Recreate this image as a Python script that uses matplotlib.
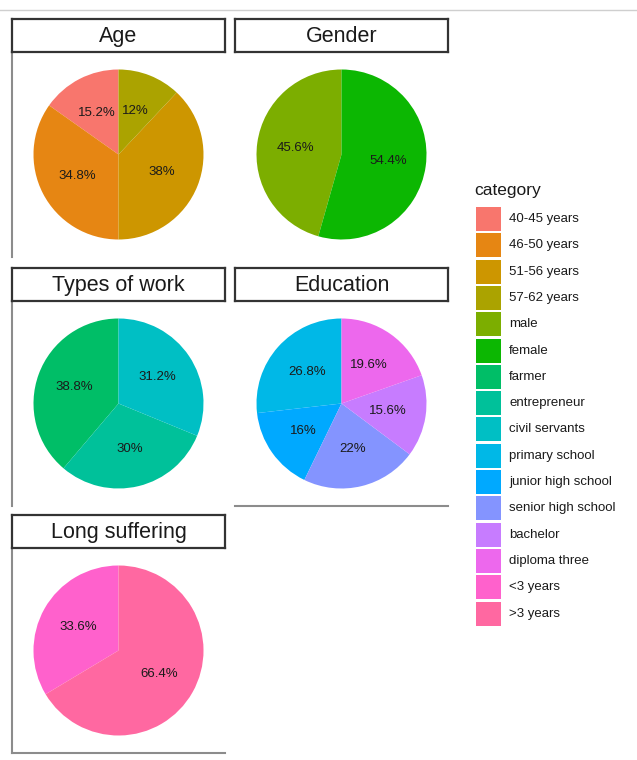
import matplotlib
matplotlib.use('Agg')
import matplotlib.pyplot as plt
from matplotlib.patches import Rectangle
import numpy as np

plt.rcParams['font.family'] = ['Liberation Sans', 'DejaVu Sans']

# data
panels = ['Age', 'Gender', 'Types of work', 'Education', 'Long suffering']
age_cats = ['40-45 years', '46-50 years', '51-56 years', '57-62 years']
age_vals = [15.2, 34.8, 38, 12]
gender_cats = ['male', 'female']
gender_vals = [45.6, 54.4]
work_cats = ['farmer', 'entrepreneur', 'civil servants']
work_vals = [38.8, 30, 31.2]
edu_cats = ['primary school', 'junior high school', 'senior high school',
            'bachelor', 'diploma three']
edu_vals = [26.8, 16, 22, 15.6, 19.6]
suff_cats = ['<3 years', '>3 years']
suff_vals = [33.6, 66.4]

groups = [(age_cats, age_vals), (gender_cats, gender_vals), (work_cats, work_vals),
          (edu_cats, edu_vals), (suff_cats, suff_vals)]
all_cats = [c for cats, _ in groups for c in cats]

W, H = 637, 760


def hue_pal(n, l=65, c=100):
    # ggplot2 default discrete palette (HCL -> sRGB)
    hues = np.linspace(15, 375, n + 1)[:-1]
    Xn, Yn, Zn = 95.047, 100.0, 108.883
    un = 4 * Xn / (Xn + 15 * Yn + 3 * Zn)
    vn = 9 * Yn / (Xn + 15 * Yn + 3 * Zn)
    out = []
    for h in hues:
        u = c * np.cos(np.radians(h))
        v = c * np.sin(np.radians(h))
        Y = Yn * ((l + 16) / 116) ** 3
        up = u / (13 * l) + un
        vp = v / (13 * l) + vn
        X = Y * 9 * up / (4 * vp)
        Z = Y * (12 - 3 * up - 20 * vp) / (4 * vp)
        xyz = np.array([X, Y, Z]) / 100
        m = np.array([[3.2404542, -1.5371385, -0.4985314],
                      [-0.9692660, 1.8760108, 0.0415560],
                      [0.0556434, -0.2040259, 1.0572252]])
        rgb = m @ xyz
        rgb = np.where(rgb <= 0.0031308, 12.92 * rgb, 1.055 * np.clip(rgb, 0, None) ** (1 / 2.4) - 0.055)
        out.append(tuple(np.clip(rgb, 0, 1)))
    return out


colors = dict(zip(all_cats, hue_pal(len(all_cats))))


def box(x, y, w, h):
    return [x / W, 1 - (y + h) / H, w / W, h / H]


fig = plt.figure(figsize=(W / 100, H / 100), dpi=100)

col_x = [12, 235]
row_y = [19, 268, 515]
pw, sh, ph = 213, 33, 205
radius_px = 85

for k, (name, (cats, vals)) in enumerate(zip(panels, groups)):
    r, c = divmod(k, 2)
    x0, y0 = col_x[c], row_y[r]

    # panel
    ax = fig.add_axes(box(x0, y0 + sh, pw, ph))
    ax.patch.set_visible(False)
    wedges, _ = ax.pie(vals, colors=[colors[ct] for ct in cats], startangle=90,
                       counterclock=True, radius=1, wedgeprops=dict(linewidth=0))
    for w_, v in zip(wedges, vals):
        mid = np.radians((w_.theta1 + w_.theta2) / 2)
        ax.text(0.55 * np.cos(mid), 0.55 * np.sin(mid), f'{v:g}%', ha='center',
                va='center', fontsize=9.5, color='#1a1a1a')
    ax.set_frame_on(True)
    ax.set_aspect('auto')
    ax.set_xlim(-pw / 2 / radius_px, pw / 2 / radius_px)
    ax.set_ylim(-ph / 2 / radius_px, ph / 2 / radius_px)
    ax.set_xticks([])
    ax.set_yticks([])
    for s in ax.spines.values():
        s.set_visible(False)
    ax.spines['left'].set_visible(c == 0)
    bottom = (k + 2) >= len(panels)
    ax.spines['bottom'].set_visible(bottom)
    for side in ['left', 'bottom']:
        ax.spines[side].set_color('#8c8c8c')
        ax.spines[side].set_linewidth(1.5)

    # strip
    sax = fig.add_axes(box(x0, y0, pw, sh))
    sax.set_xticks([])
    sax.set_yticks([])
    for s in sax.spines.values():
        s.set_color('#333333')
        s.set_linewidth(1.6)
        s.set_clip_on(False)
    sax.text(0.5, 0.48, name, ha='center', va='center', fontsize=15.5,
             color='#1a1a1a', transform=sax.transAxes)

# overlay for legend and top rule
ov = fig.add_axes([0, 0, 1, 1], facecolor='none')
ov.set_xlim(0, W)
ov.set_ylim(H, 0)
ov.axis('off')
ov.axhline(10, color='#cfcfcf', lw=1)
ov.text(474, 191, 'category', ha='left', va='center', fontsize=12.5, color='#1a1a1a')
for i, ct in enumerate(all_cats):
    yc = 219 + 26.3 * i
    ov.add_patch(Rectangle((476, yc - 12), 25, 24, color=colors[ct], lw=0))
    ov.text(509, yc, ct, ha='left', va='center', fontsize=9.5, color='#1a1a1a')

fig.savefig('out.png', dpi=100)
